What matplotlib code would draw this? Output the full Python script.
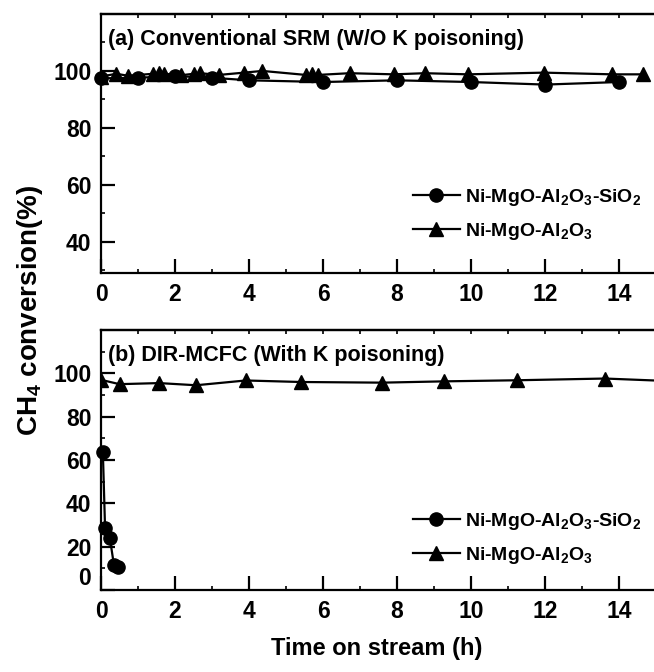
import matplotlib
matplotlib.use("Agg")
import matplotlib.pyplot as plt
from matplotlib.ticker import MultipleLocator

plt.rcParams['font.family'] = ['Liberation Sans', 'DejaVu Sans']
plt.rcParams['font.weight'] = 'bold'
plt.rcParams['mathtext.fontset'] = 'custom'
plt.rcParams['mathtext.rm'] = 'Liberation Sans:bold'
plt.rcParams['mathtext.bf'] = 'Liberation Sans:bold'
plt.rcParams['mathtext.it'] = 'Liberation Sans:bold'

# (a) conventional SRM, no K poisoning
a_sio2_t = [0, 1, 2, 3, 4, 6, 8, 10, 12, 14]
a_sio2_y = [97.4, 97.6, 98.2, 97.6, 96.7, 96.1, 96.7, 96.1, 95.2, 96.1]
a_al_t = [0, 0.41, 0.73, 1.41, 1.58, 1.70, 2.17, 2.51, 2.68, 3.19, 3.87, 4.36,
          5.53, 5.70, 5.87, 6.72, 7.92, 8.75, 9.92, 11.97, 13.82, 14.65]
a_al_y = [98.0, 99.0, 98.3, 99.0, 99.2, 99.0, 98.5, 99.0, 99.2, 98.6, 99.4, 100.0,
          98.6, 98.8, 98.6, 99.2, 98.8, 99.2, 98.8, 99.4, 98.8, 98.8]

# (b) DIR-MCFC, with K poisoning
b_sio2_t = [0.05, 0.11, 0.24, 0.35, 0.45]
b_sio2_y = [63.8, 28.5, 23.9, 11.5, 10.5]
b_al_t = [0, 0.5, 1.57, 2.57, 3.91, 5.41, 7.6, 9.28, 11.24, 13.62, 16.0]
b_al_y = [97.0, 95.0, 95.5, 94.5, 96.7, 96.0, 95.7, 96.3, 96.8, 97.6, 96.0]

lab_sio2 = r"Ni-MgO-Al$_2$O$_3$-SiO$_2$"
lab_al = r"Ni-MgO-Al$_2$O$_3$"

W, H = 654, 672
fig = plt.figure(figsize=(W / 100, H / 100), dpi=100)
ax1 = fig.add_axes([101 / W, 1 - 273 / H, 553 / W, 259 / H])
ax2 = fig.add_axes([101 / W, 1 - 590 / H, 553 / W, 260 / H])


def style(ax, ymin, ymax, yticks):
    ax.set_xlim(0, 553 / 37)
    ax.set_ylim(ymin, ymax)
    ax.spines['right'].set_visible(False)
    for s in ['left', 'bottom', 'top']:
        ax.spines[s].set_linewidth(1.6)
    ax.set_xticks(range(0, 15, 2))
    ax.xaxis.set_minor_locator(MultipleLocator(1))
    ax.set_yticks(yticks)
    ax.yaxis.set_minor_locator(MultipleLocator(10))
    ax.tick_params(which='major', direction='in', length=10, width=1.6,
                   labelsize=16.5, pad=7)
    ax.tick_params(which='minor', direction='in', length=3, width=1.2)
    top = ax.secondary_xaxis('top')
    top.set_xticks(range(0, 16))
    top.tick_params(direction='in', length=3, width=1.2, labeltop=False)
    top.spines['top'].set_linewidth(1.6)


def draw(ax, t1, y1, t2, y2):
    ax.plot(t1, y1, '-o', color='black', lw=1.6, ms=9.5, label=lab_sio2,
            clip_on=False, zorder=3)
    ax.plot(t2, y2, '-^', color='black', lw=1.6, ms=10.5, label=lab_al,
            clip_on=True, zorder=3)


draw(ax1, a_sio2_t, a_sio2_y, a_al_t, a_al_y)
draw(ax2, b_sio2_t, b_sio2_y, b_al_t, b_al_y)
style(ax1, 29, 120, [40, 60, 80, 100])
style(ax2, 0, 120, [0, 20, 40, 60, 80, 100])

ax1.text(0.012, 0.9, "(a) Conventional SRM (W/O K poisoning)", transform=ax1.transAxes,
         fontsize=15.5, va='center', ha='left')
ax2.text(0.012, 0.9, "(b) DIR-MCFC (With K poisoning)", transform=ax2.transAxes,
         fontsize=15.5, va='center', ha='left')

for ax, yc in [(ax1, 0.226), (ax2, 0.198)]:
    ax.legend(loc='center left', bbox_to_anchor=(0.564, yc), frameon=False,
              borderpad=0, borderaxespad=0, handlelength=2.4, handletextpad=0.3,
              labelspacing=0.65, fontsize=14)

fig.canvas.draw()
ax2.get_yticklabels()[0].set_va('bottom')

fig.text(30 / W, 1 - 310 / H, r"CH$_4$ conversion(%)", rotation=90,
         ha='center', va='center', fontsize=20)
fig.text(377 / W, 1 - 648 / H, "Time on stream (h)", ha='center', va='center',
         fontsize=17)

fig.savefig("out.png", dpi=100)
